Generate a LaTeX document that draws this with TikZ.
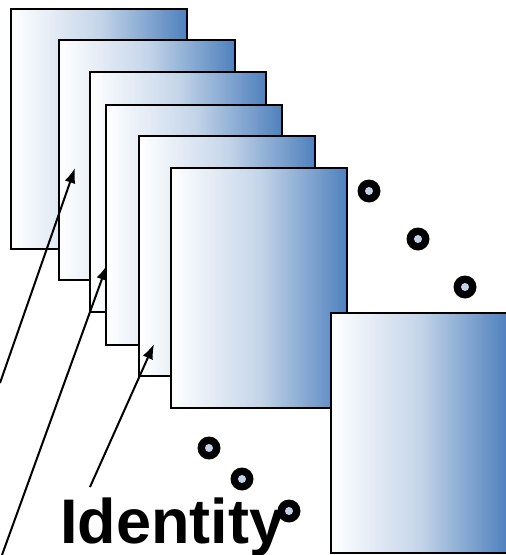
\documentclass[tikz,border=0pt]{standalone}
\usepackage{fontspec}
\setmainfont{Liberation Sans}
\usetikzlibrary{arrows.meta}
\definecolor{paneblue}{HTML}{4F81BD}
\definecolor{dotblue}{HTML}{C5D3EA}

\begin{document}
\begin{tikzpicture}[x=1pt, y=-1pt]
\tikzset{
  pane/.style={draw, line width=2pt, anchor=north west, inner sep=0pt, minimum width=176pt, minimum height=240pt, left color=white, right color=paneblue, middle color=paneblue!33},
  ring/.style={circle, fill=black, inner sep=0pt, minimum size=23pt, path picture={\fill[dotblue] (path picture bounding box.center) circle[radius=4pt];}},
  pointer/.style={-{Latex[length=15pt,width=11pt]}, line width=2pt}
}
\useasboundingbox (0,0) rectangle (506,555);
\node[pane] (p1) at (10,8) {};
\node[pane] (p2) at (58,39) {};
\node[pane] (p3) at (89,71) {};
\node[pane] (p4) at (105,104) {};
\node[pane] (p5) at (138,135) {};
\node[pane] (p6) at (170,167) {};
\node[ring] (d1) at (369,191) {};
\node[ring] (d2) at (418,239) {};
\node[ring] (d3) at (465,287) {};
\node[pane] (p7) at (330,312) {};
\node[anchor=base west, inner sep=0pt, font=\bfseries\fontsize{63}{70}\selectfont] (id) at (60,543) {Identity};
\node[ring] (d4) at (209,448) {};
\node[ring] (d5) at (242,479) {};
\node[ring] (d6) at (289,511) {};
\coordinate (t1) at (0,383); \coordinate (h1) at (75,168);
\coordinate (t2) at (2,555); \coordinate (h2) at (107,265);
\coordinate (t3) at (90,487); \coordinate (h3) at (154,344);
\draw[pointer] (t1)--(h1); \draw[pointer] (t2)--(h2); \draw[pointer] (t3)--(h3);
\end{tikzpicture}
\end{document}
